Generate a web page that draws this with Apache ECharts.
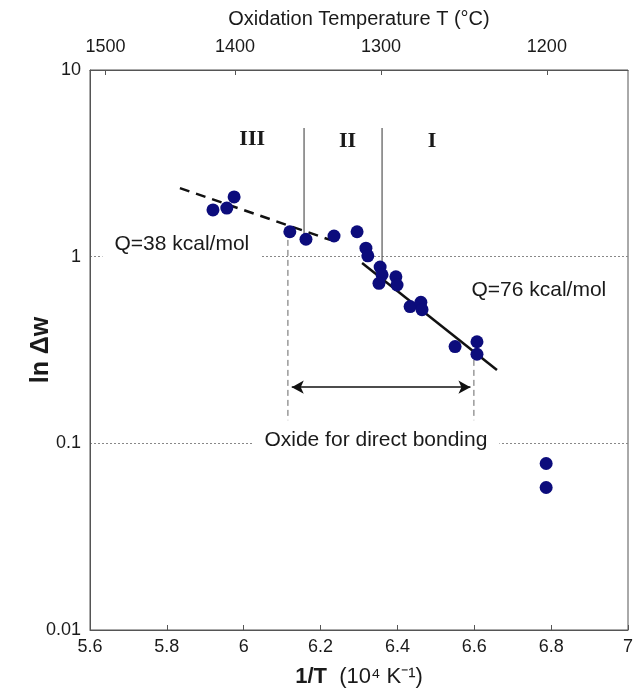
<!DOCTYPE html>
<html>
<head>
<meta charset="utf-8">
<script src="https://cdn.jsdelivr.net/npm/echarts@6/dist/echarts.min.js"></script>
<style>
  html, body { margin: 0; padding: 0; background: #fff; }
  #main { width: 642px; height: 691px; }
</style>
</head>
<body>
<div id="main"></div>
<script>
// measured points, 1/T (10^4 K^-1) vs dw
var pointsX = [5.920, 5.956, 5.975, 6.120, 6.162, 6.235, 6.295, 6.318, 6.323,
               6.355, 6.360, 6.352, 6.396, 6.399, 6.433, 6.461, 6.464,
               6.550, 6.607, 6.607, 6.787, 6.787];
var pointsY = [1.78, 1.82, 2.09, 1.36, 1.24, 1.29, 1.36, 1.11, 1.01,
               0.88, 0.80, 0.72, 0.78, 0.705, 0.54, 0.57, 0.52,
               0.33, 0.35, 0.30, 0.078, 0.058];

// fitted lines
var fit38 = [[5.834, 2.33], [6.225, 1.23]];
var fit76 = [[6.308, 0.925], [6.659, 0.247]];

// region dividers (solid) and oxide range (dashed)
var divider1 = [[6.157, 4.89], [6.157, 1.18]];
var divider2 = [[6.360, 4.89], [6.360, 0.914]];
var oxideLeft = [[6.115, 1.23], [6.115, 0.133]];
var oxideRight = [[6.599, 0.28], [6.599, 0.133]];
var arrowSpan = [[6.125, 0.2], [6.590, 0.2]];

// top axis temperatures
var tempTicks = [1500, 1400, 1300, 1200];
var tempPos = tempTicks.map(function (t) { return 1e4 / (t + 273); });

// annotations
var notes = [
    {name: 'Q=38 kcal/mol', value: [5.839, 1.17], bg: true},
    {name: 'Q=76 kcal/mol', value: [6.768, 0.664], bg: false},
    {name: 'Oxide for direct bonding', value: [6.344, 0.104], bg: true}
];
var romans = [
    {name: 'III', value: [6.022, 4.25]},
    {name: 'II', value: [6.27, 4.15]},
    {name: 'I', value: [6.49, 4.15]}
];

var textColor = '#1a1a1a';
var sans = '"Liberation Sans", Arial, sans-serif';

function seg(data, color, width, type) {
    return {
        type: 'line',
        data: data,
        symbol: 'none',
        silent: true,
        z: 2,
        lineStyle: {color: color, width: width, type: type}
    };
}

var option = {
    animation: false,
    grid: {
        left: 90, right: 14, top: 70, bottom: 61,
        outerBoundsMode: 'none',
        show: true, borderColor: '#555', borderWidth: 1
    },
    xAxis: [
        {
            type: 'value',
            min: 5.6, max: 7, interval: 0.2,
            position: 'bottom',
            name: '{b|1/T}  (10⁴ K⁻¹)',
            nameLocation: 'middle',
            nameGap: 36,
            nameMoveOverlap: false,
            nameTextStyle: {
                fontFamily: sans, fontSize: 22, color: textColor,
                rich: {b: {fontFamily: sans, fontSize: 22, fontWeight: 'bold', color: textColor}}
            },
            axisLine: {lineStyle: {color: '#555'}},
            axisTick: {inside: true, length: 5, lineStyle: {color: '#555'}},
            axisLabel: {
                fontFamily: sans, fontSize: 18, color: textColor, margin: 8,
                formatter: function (v) { return String(Math.round(v * 10) / 10); }
            },
            splitLine: {show: false}
        },
        {
            type: 'value',
            min: 5.6, max: 7,
            position: 'top',
            name: 'Oxidation Temperature T (°C)',
            nameLocation: 'middle',
            nameGap: 41,
            nameMoveOverlap: false,
            nameTextStyle: {fontFamily: sans, fontSize: 20, color: textColor},
            axisLine: {lineStyle: {color: '#555'}},
            axisTick: {inside: true, length: 5, customValues: tempPos, lineStyle: {color: '#555'}},
            axisLabel: {
                fontFamily: sans, fontSize: 18, color: textColor, margin: 14,
                customValues: tempPos,
                formatter: function (v) {
                    for (var i = 0; i < tempPos.length; i++) {
                        if (Math.abs(tempPos[i] - v) < 1e-6) return String(tempTicks[i]);
                    }
                    return '';
                }
            },
            splitLine: {show: false}
        }
    ],
    yAxis: {
        type: 'log',
        logBase: 10,
        min: 0.01, max: 10,
        name: 'ln Δw',
        nameLocation: 'middle',
        nameGap: 36,
        nameMoveOverlap: false,
        nameTextStyle: {fontFamily: sans, fontSize: 25, fontWeight: 'bold', color: textColor},
        axisLine: {lineStyle: {color: '#555'}},
        axisTick: {show: false},
        axisLabel: {fontFamily: sans, fontSize: 18, color: textColor, margin: 9},
        splitLine: {show: true, lineStyle: {color: '#888', type: [2, 2], width: 1}}
    },
    series: [
        seg(fit38, '#111', 2.5, [10, 7]),
        seg(fit76, '#111', 2.5, 'solid'),
        seg(divider1, '#555', 1.2, 'solid'),
        seg(divider2, '#555', 1.2, 'solid'),
        seg(oxideLeft, '#666', 1, [6, 4]),
        seg(oxideRight, '#666', 1, [6, 4]),
        {
            type: 'line',
            data: [],
            silent: true,
            markLine: {
                silent: true,
                symbol: ['arrow', 'arrow'],
                symbolSize: [10, 12],
                label: {show: false},
                lineStyle: {color: '#111', width: 1.5, type: 'solid'},
                data: [[{coord: arrowSpan[0]}, {coord: arrowSpan[1]}]]
            }
        },
        {
            type: 'scatter',
            z: 5,
            data: pointsX.map(function (x, i) { return [x, pointsY[i]]; }),
            symbolSize: 13,
            itemStyle: {color: '#0c0c7c', opacity: 1}
        },
        {
            type: 'scatter',
            z: 3,
            silent: true,
            symbolSize: 0,
            itemStyle: {opacity: 1},
            data: notes.map(function (n) {
                return {
                    name: n.name, value: n.value,
                    label: {
                        backgroundColor: n.bg ? '#fff' : 'transparent',
                        padding: n.bg ? [4, 12, 6, 12] : 0
                    }
                };
            }),
            label: {
                show: true,
                position: 'inside',
                formatter: '{b}',
                fontFamily: sans, fontSize: 21, color: textColor
            }
        },
        {
            type: 'scatter',
            z: 3,
            silent: true,
            symbolSize: 0,
            itemStyle: {opacity: 1},
            data: romans,
            label: {
                show: true,
                position: 'inside',
                formatter: '{b}',
                fontFamily: '"Liberation Serif", "Times New Roman", serif',
                fontWeight: 'bold',
                fontSize: 22, color: textColor
            }
        }
    ]
};

var myChart = echarts.init(document.getElementById('main'));
myChart.setOption(option);
</script>
</body>
</html>
